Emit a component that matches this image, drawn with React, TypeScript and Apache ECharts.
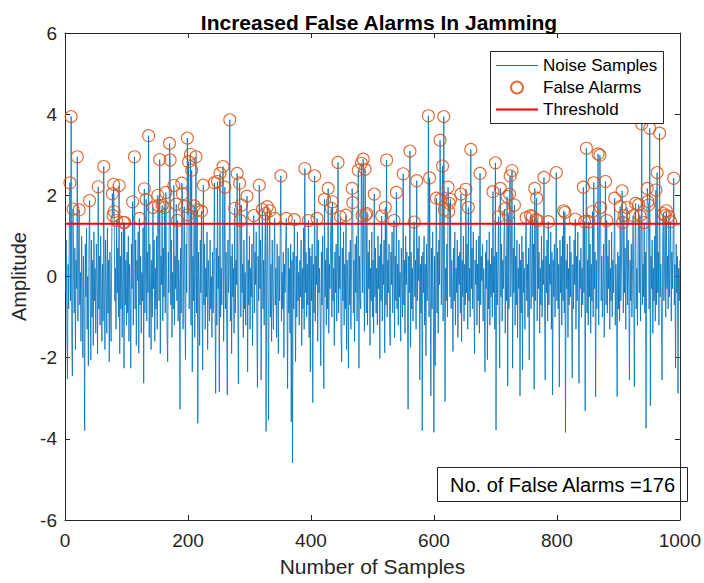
import React, { useEffect, useRef } from "react";
import * as echarts from "echarts";

// Detection threshold applied to the received samples
const threshold = 1.3;

// Received noise amplitudes, samples 1..1000 (twenty per line)
const noiseSamples = [
  -0.4, 0.9, -1.2, -2.53, 0.3, -0.8, 1.1, 2.31, -0.6, 3.94, -1.5, -2.45, 1.66, 0.2, -0.9, 0.7, -1.8, 0.4, -0.3, 2.95,
  -1.1, 0.6, 1.64, -0.7, 0.1, -1.6, 1.0, -0.2, -2.0, 0.5, -0.9, -3.8, 0.8, -0.5, 1.2, -1.3, 0.0, -2.2, 0.7, 1.87,
  -0.3, -2.06, 0.9, -1.0, 0.4, -1.7, 1.1, -0.6, 0.2, -1.4, 0.8, -0.1, -1.9, 2.21, -0.8, 0.5, -1.2, 1.0, -0.4, -1.6,
  0.3, -1.1, 2.71, -0.5, -1.8, 0.9, -0.2, -1.4, 1.2, -0.9, 0.4, -2.1, 0.6, -0.7, -1.6, 0.8, 2.04, 1.5, 2.27, 1.6,
  -0.6, 0.2, -1.3, 1.38, -0.4, 0.7, -1.0, 2.24, -1.9, 0.5, -0.8, 1.1, -1.5, 0.0, 1.33, -2.26, 1.33, -0.7, 0.4, -1.2,
  0.6, -0.9, 1.0, -1.6, 0.3, -0.5, -2.26, 0.8, -0.3, 1.84, -1.2, 0.2, 2.95, -0.8, 0.9, -1.7, 0.4, -0.1, 1.1, -1.89,
  1.43, -0.7, 0.5, -1.4, 0.1, -0.6, 1.2, -2.63, 2.16, -0.9, 0.3, 1.9, -1.1, 0.6, -0.4, 3.47, -1.5, 0.8, -0.2, -1.8,
  0.4, -1.0, 1.7, -0.3, 0.9, -1.6, 0.2, -0.8, 1.0, -1.3, 2.0, 1.75, -0.6, 2.88, -1.9, 0.5, -0.2, 1.75, -1.1, 0.7,
  -0.5, 1.7, -0.9, 2.07, 0.3, -1.4, -2.1, 0.6, -0.4, 3.28, 2.87, -0.7, 0.9, -1.5, 0.1, -0.8, 2.24, -1.2, 0.5, -0.3,
  1.78, -0.6, 1.38, -1.1, 0.4, -0.2, -3.27, 0.7, -0.9, 2.3, 2.04, -1.3, 0.2, 1.72, -0.7, -2.05, 0.8, -0.4, 3.41, 1.52,
  2.83, -0.8, 0.3, 3.01, -1.2, 2.62, -2.35, 0.5, -0.6, 1.74, -1.5, 0.1, 2.95, -0.9, 1.64, -3.62, 0.6, -0.3, -1.7, 0.9,
  -0.4, 1.61, -1.0, -2.3, 2.25, -0.7, 0.8, -1.3, 0.2, -0.5, 1.1, -1.8, 0.4, -0.2, -1.1, 0.9, -0.8, 0.0, -1.5, 0.6,
  -0.9, 0.3, 2.31, -0.6, -2.88, 0.7, -1.2, 2.34, -0.3, 0.5, -2.84, 2.54, -1.0, 0.2, -0.7, 1.0, 2.71, -1.6, 0.4, 2.2,
  -0.8, 0.6, -1.3, -2.92, 0.9, -0.4, 0.1, 3.86, -1.1, 0.5, -1.9, 0.8, -0.5, 0.2, -1.4, 1.68, -0.9, 0.4, -0.2, 2.54,
  -0.6, -2.65, 0.7, 2.3, 1.38, -1.0, 1.76, -0.4, 0.3, -1.5, 0.9, -0.8, 0.1, -1.2, 0.6, 1.98, -2.35, 0.4, -0.7, 1.0,
  -1.3, 0.2, -0.5, 0.8, -1.7, 0.4, 1.5, -0.9, 0.6, -0.2, 1.1, -1.1, -2.73, 0.5, -0.6, 2.25, -0.3, 0.9, -2.55, 0.3,
  1.65, -0.8, 0.4, -1.2, 0.7, 1.55, -3.82, 0.2, 1.72, -0.5, -3.54, 0.6, 1.62, -1.0, 0.3, -1.6, 0.9, -0.4, -1.3, 0.5,
  1.43, -0.7, 0.2, -1.5, 0.8, -0.3, -1.9, 0.5, -0.6, 1.0, 2.48, -1.1, 0.1, -0.8, 0.6, -2.0, 0.3, -0.4, 0.9, 1.43,
  -0.5, -2.76, 0.7, -0.9, 0.2, -1.4, 0.8, -3.58, 0.4, -4.59, 0.6, -0.8, 1.4, -0.3, -2.1, 0.5, -1.0, 1.1, -0.6, 0.1,
  -1.2, 0.4, -0.5, 0.9, -1.7, 0.2, -0.8, 1.2, -1.3, 2.66, -0.4, 0.6, -1.0, 0.3, -0.7, 1.38, -1.5, 0.7, -2.35, 0.5,
  -0.6, 0.8, -3.11, 0.3, -0.9, 2.48, -1.1, 0.5, -0.2, 1.43, -1.6, 0.9, -0.4, 0.2, -1.0, -2.2, 0.6, -0.7, 1.0, -1.3,
  -2.76, 1.9, -0.5, 0.4, -1.2, 0.7, -0.8, 2.17, -1.4, 0.3, -0.3, 0.9, 1.68, -1.0, 1.84, -0.6, 0.2, -1.7, 0.6, -0.4,
  0.8, -1.1, 0.1, 2.81, -0.9, 0.5, -0.3, 1.47, -1.5, -2.1, 0.7, -0.6, 1.1, -1.2, 0.3, -0.8, 1.51, -1.8, 0.4, -0.2,
  -2.26, 0.6, -0.7, 0.9, -1.3, 0.2, 2.17, 1.82, -0.9, 0.4, -1.6, 0.8, -0.4, 1.0, -1.1, 0.1, 2.62, -2.26, 0.5, -0.5,
  -0.8, 2.79, 1.5, -0.4, 2.89, 0.3, -1.35, 2.64, 1.52, -0.9, 1.55, -1.2, 0.6, -0.3, 0.9, -1.7, 0.2, -0.6, 1.1, -1.0,
  0.4, -1.4, 2.03, -0.5, 0.7, -0.9, 0.2, -1.2, 1.0, -0.3, 0.5, -2.02, 0.8, -0.6, 1.49, -1.1, 0.3, -0.2, 0.9, -1.88,
  1.7, -0.7, 2.87, -1.0, 0.4, -0.4, 0.8, -1.3, -1.7, 0.6, -0.2, 1.1, -0.9, 0.2, 1.38, -1.5, 0.5, -0.6, 2.07, -0.8,
  0.3, -1.2, 0.9, -0.5, 0.1, -1.6, 0.7, -0.3, -1.0, 2.53, -0.7, 0.4, -1.4, 1.0, -0.2, 0.6, -0.9, -3.27, 0.5, -0.4,
  3.09, -1.75, 0.6, -0.8, 0.2, -1.1, 0.9, 1.34, -0.5, 0.4, -1.3, 2.36, -0.6, 0.7, -0.1, 1.0, -2.55, 0.3, -0.9, 0.5,
  -3.8, 0.6, -0.4, 1.0, -1.2, 0.3, -1.95, 0.8, -0.6, 0.2, 3.96, -1.0, 2.43, -0.3, -2.94, 0.7, -0.8, 1.1, -0.5, -3.84,
  0.5, -2.2, 0.3, 1.93, -0.9, 0.6, -1.4, 0.9, -0.2, 3.36, 1.9, -0.7, 0.4, 2.72, -1.1, 3.94, 1.64, -3.08, 0.2, -0.6,
  0.8, -1.0, 2.2, 1.6, 1.8, -0.5, 1.9, -0.8, 0.4, -0.3, -1.85, 0.7, -0.6, 1.1, -1.2, 0.2, -0.4, 0.9, -1.5, 0.5,
  -0.2, 0.6, -0.9, 2.03, -1.6, 0.4, -0.5, 1.0, -1.1, 0.3, -0.7, 2.15, -0.4, 0.8, -1.3, 1.7, -0.6, 0.2, -1.0, 3.13,
  -0.3, 0.7, -0.8, 1.1, -0.5, -1.9, 0.4, -0.2, 0.9, -1.2, 0.3, -0.6, 1.0, -1.4, 2.54, -0.7, 0.5, -0.1, 0.8, -1.1,
  0.2, -0.6, -2.35, 0.6, -0.3, 0.9, -2.05, 0.4, -0.8, 1.1, -1.2, 0.3, -0.5, 0.7, -1.0, 2.09, -0.4, 0.5, -1.3, 2.8,
  -3.78, 0.6, -0.7, 0.2, 1.47, -0.9, -2.26, 2.17, -0.5, 0.8, -1.1, 0.4, -0.3, 1.0, 1.66, -1.4, 0.5, -0.6, 1.97, -2.7,
  1.52, -0.8, 2.03, 2.48, -0.5, 0.3, 2.61, -2.26, 0.7, -0.4, 1.76, -1.2, 0.5, -0.7, 0.9, -1.5, 0.2, -0.3, 0.8, -2.94,
  0.4, -0.9, 1.0, -2.3, 0.6, -0.4, 0.2, -1.3, 0.9, 1.45, -0.6, 0.3, -1.0, 0.7, -2.06, 0.5, 1.5, -0.8, 0.1, 1.48,
  -0.5, 0.8, -2.78, 2.17, -0.6, 1.4, 1.93, -1.1, 1.38, -0.3, 0.6, -1.4, 0.2, -0.7, 1.0, -1.0, 0.4, -0.2, 2.44, -0.9,
  -2.55, 0.5, -0.4, 0.9, -1.1, 1.35, -0.7, 0.3, -0.2, 1.1, -1.3, 0.6, -2.92, 0.4, -0.5, 0.8, -1.0, 0.2, 2.56, -0.6,
  0.7, -0.8, 0.3, -2.72, 0.9, -0.4, 0.5, -1.2, 1.0, -0.6, 1.62, -0.9, 1.58, -3.84, 0.4, -0.3, 0.8, -1.5, 0.2, -0.7,
  1.0, -0.5, 0.6, -1.1, -2.5, 0.3, -0.8, 0.9, -0.2, 1.41, -1.3, 0.5, -0.6, 1.1, -0.9, -2.63, 0.4, -0.3, 0.7, -1.0,
  0.2, -0.7, 2.2, -0.4, 1.35, -3.31, 0.6, 3.16, -0.9, 0.4, -1.2, 1.35, -0.5, 0.8, -1.4, 0.3, -0.6, 1.6, -1.0, 2.31,
  -0.3, 0.6, -2.96, 0.4, -0.8, 1.0, 3.02, -1.2, 0.3, 2.99, 1.7, -0.6, 0.5, -1.0, -0.2, 0.8, -1.5, 0.1, 2.34, -0.7,
  1.38, -0.9, 0.5, -0.3, 0.9, -1.3, 0.2, -0.6, 1.1, -1.0, 0.4, -0.4, 0.7, 1.93, -1.2, 0.3, -0.5, -2.96, 0.6, -0.8,
  0.5, -1.1, 1.72, -0.6, 0.3, 2.11, 1.33, -0.9, 1.5, -0.4, 0.7, -1.3, 0.2, 1.7, -0.7, 0.9, -0.3, -2.55, 0.4, -0.6,
  0.8, -1.0, 0.3, 1.5, -0.5, -2.72, 0.6, 1.8, -0.8, 0.2, -1.2, 0.9, 1.77, -0.4, 1.5, -1.1, 0.5, 3.76, -0.7, 0.3,
  -0.5, 1.33, -0.9, 0.6, -3.74, 0.4, 2.17, 1.85, 1.76, -0.8, 3.65, -3.19, 0.5, -0.3, 0.9, -1.4, 0.2, -0.6, 1.0, -1.1,
  2.13, -0.7, 2.56, -0.4, 0.6, -1.2, 3.53, -0.5, 0.3, -0.9, -2.55, 0.7, 1.55, -0.6, 0.2, 1.5, -1.0, 1.62, -0.3, 0.5,
  -0.8, 1.48, -0.5, 0.4, 1.35, -1.1, 0.6, -0.3, 0.9, 2.42, -0.7, 0.3, -2.26, 0.8, -0.4, 0.5, -2.88, 0.2, -0.6, 0.4,
];

// Axis ticks
const xTicks = { min: 0, max: 1000, interval: 200 };
const yTicks = { min: -6, max: 6, interval: 2 };

const AXIS_COLOR = "#262626";
const NOISE_COLOR = "#0072BD";
const ALARM_COLOR = "#D95319";
const THRESHOLD_COLOR = "#FF0000";
const FONT = "'Liberation Sans', Arial, sans-serif";

// Legend glyphs: thin bars for the two line series
const LINE_ICON = "path://M0,0 L42,0 L42,1 L0,1 Z";
const THICK_LINE_ICON = "path://M0,0 L42,0 L42,2 L0,2 Z";

export default function App() {
  const ref = useRef<HTMLDivElement>(null);

  useEffect(() => {
    if (!ref.current) return;
    const chart = echarts.init(ref.current, undefined, { renderer: "svg" });

    const noisePoints = noiseSamples.map((v, i) => [i + 1, v]);
    const alarmPoints = noisePoints.filter((p) => p[1] > threshold);
    const thresholdPoints = [
      [xTicks.min, threshold],
      [xTicks.max, threshold],
    ];

    const plot = { left: 65, top: 33, right: 21, bottom: 63 };

    const boxAxis = {
      axisLine: { show: true, onZero: false, lineStyle: { color: AXIS_COLOR, width: 1 } },
      axisTick: { show: true, inside: true, length: 5, lineStyle: { color: AXIS_COLOR } },
      axisLabel: { show: false },
      splitLine: { show: false },
    };

    chart.setOption({
      animation: false,
      backgroundColor: "#ffffff",
      title: {
        text: "Increased False Alarms In Jamming",
        left: 374,
        top: 7,
        textAlign: "center",
        textStyle: { fontFamily: FONT, fontWeight: "bold", fontSize: 21, color: "#000" },
      },
      grid: { ...plot, containLabel: false },
      legend: {
        orient: "vertical",
        left: 490,
        top: 51,
        itemWidth: 42,
        itemHeight: 12,
        itemGap: 5,
        padding: [6, 8, 6, 6],
        z: 20,
        textStyle: { fontFamily: FONT, fontSize: 17, color: "#000" },
        data: [
          {
            name: "Noise Samples",
            icon: LINE_ICON,
            itemStyle: { color: NOISE_COLOR, borderWidth: 0 },
            lineStyle: { width: 0 },
          },
          { name: "False Alarms", icon: "circle" },
          {
            name: "Threshold",
            icon: THICK_LINE_ICON,
            itemStyle: { color: THRESHOLD_COLOR, borderWidth: 0 },
            lineStyle: { width: 0 },
          },
        ],
      },
      xAxis: [
        {
          type: "value",
          position: "bottom",
          ...xTicks,
          name: "Number of Samples",
          nameLocation: "middle",
          nameGap: 36,
          nameTextStyle: { fontFamily: FONT, fontSize: 21, color: AXIS_COLOR },
          axisLine: { show: true, onZero: false, lineStyle: { color: AXIS_COLOR, width: 1 } },
          axisTick: { show: true, inside: true, length: 5, lineStyle: { color: AXIS_COLOR } },
          axisLabel: {
            fontFamily: FONT,
            fontSize: 19,
            color: AXIS_COLOR,
            margin: 11,
            formatter: (v: number) => String(v),
          },
          splitLine: { show: false },
        },
        { type: "value", position: "top", ...xTicks, ...boxAxis },
      ],
      yAxis: [
        {
          type: "value",
          position: "left",
          ...yTicks,
          name: "Amplitude",
          nameLocation: "middle",
          nameGap: 27,
          nameTextStyle: { fontFamily: FONT, fontSize: 20, color: AXIS_COLOR },
          axisLine: { show: true, onZero: false, lineStyle: { color: AXIS_COLOR, width: 1 } },
          axisTick: { show: true, inside: true, length: 5, lineStyle: { color: AXIS_COLOR } },
          axisLabel: {
            fontFamily: FONT,
            fontSize: 19,
            color: AXIS_COLOR,
            margin: 8,
            formatter: (v: number) => String(v),
          },
          splitLine: { show: false },
        },
        { type: "value", position: "right", ...yTicks, ...boxAxis },
      ],
      series: [
        {
          name: "Noise Samples",
          type: "line",
          data: noisePoints,
          showSymbol: false,
          symbol: "none",
          lineStyle: { color: NOISE_COLOR, width: 0.8 },
          itemStyle: { color: NOISE_COLOR },
          z: 2,
        },
        {
          name: "False Alarms",
          type: "scatter",
          data: alarmPoints,
          symbol: "circle",
          symbolSize: 12,
          itemStyle: { color: "rgba(0,0,0,0)", borderColor: ALARM_COLOR, borderWidth: 1.1, opacity: 0.85 },
          z: 3,
        },
        {
          name: "Threshold",
          type: "line",
          data: thresholdPoints,
          showSymbol: false,
          symbol: "none",
          lineStyle: { color: THRESHOLD_COLOR, width: 2 },
          itemStyle: { color: THRESHOLD_COLOR },
          z: 4,
        },
      ],
      graphic: [
        // legend frame
        {
          type: "rect",
          left: 490,
          top: 51,
          z: 10,
          shape: { x: 0, y: 0, width: 173, height: 72 },
          style: { fill: "#ffffff", stroke: AXIS_COLOR, lineWidth: 1 },
        },
        // false-alarm count box
        {
          type: "group",
          left: 437,
          top: 467,
          z: 10,
          children: [
            {
              type: "rect",
              shape: { x: 0, y: 0, width: 250, height: 34 },
              style: { fill: "#ffffff", stroke: AXIS_COLOR, lineWidth: 1 },
            },
            {
              type: "text",
              x: 125,
              y: 17,
              style: {
                text: `No. of False Alarms =${alarmPoints.length}`,
                fontFamily: FONT,
                fontSize: 20,
                fill: "#000",
                align: "center",
                verticalAlign: "middle",
              },
            },
          ],
        },
      ],
    });

    return () => chart.dispose();
  }, []);

  return (
    <div
      ref={ref}
      style={{ position: "fixed", left: 0, top: 0, width: 704, height: 583, background: "#fff" }}
    />
  );
}
